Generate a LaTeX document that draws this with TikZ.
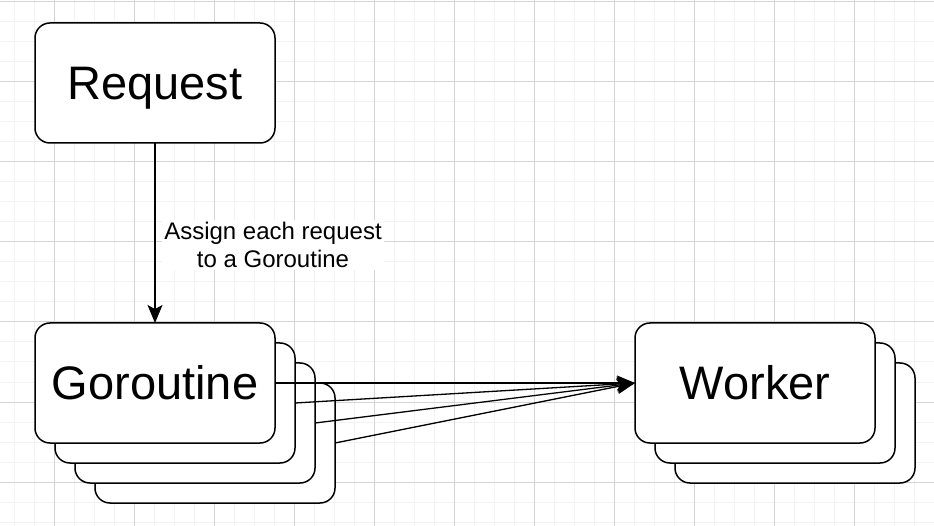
\documentclass[tikz,border=0pt]{standalone}
\usepackage{fontspec}
\setmainfont{Liberation Sans}
\usetikzlibrary{arrows.meta}
\definecolor{gridminor}{HTML}{F2F2F2}
\definecolor{gridmajor}{HTML}{D4D4D4}
\tikzset{
  box/.style={draw=black, fill=white, line width=1.5pt, rounded corners=15pt,
    minimum width=240pt, minimum height=120pt, inner sep=0pt, outer sep=0pt,
    font=\fontsize{47}{56}\selectfont, text height=33.7pt, text depth=0pt},
  conn/.style={draw=black, line width=1.3pt, -{Stealth[length=18pt,width=15pt,inset=4pt]}},
  lbl/.style={fill=white, inner sep=2pt, align=center, font=\fontsize{24}{28}\selectfont}
}
\begin{document}
\begin{tikzpicture}[x=1pt,y=-1pt]
\useasboundingbox (0,0) rectangle (934,526);
% grid
\foreach \x in {14,34,...,934} \draw[gridminor, line width=1pt] (\x,0) -- (\x,526);
\foreach \y in {2,22,...,526} \draw[gridminor, line width=1pt] (0,\y) -- (934,\y);
\foreach \x in {54,134,...,934} \draw[gridmajor, line width=1pt] (\x,0) -- (\x,526);
\foreach \y in {2,82,...,526} \draw[gridmajor, line width=1pt] (0,\y) -- (934,\y);
% request
\node[box] (req) at (155,83) {Request};
% goroutine stack
\node[box] (g4) at (215,443) {};
\node[box] (g3) at (195,423) {};
\node[box] (g2) at (175,403) {};
\node[box] (g1) at (155,383) {Goroutine};
% worker stack
\node[box] (w3) at (795,423) {};
\node[box] (w2) at (775,403) {};
\node[box] (w1) at (755,383) {Worker};
% connectors
\draw[conn] (req.south) -- (g1.north);
\node[lbl] (lab) at (273,245) {Assign each request\\to a Goroutine};
\draw[conn] (g1.east) -- (w1.west);
\draw[conn] (g2.east) -- (w1.west);
\draw[conn] (g3.east) -- (w1.west);
\draw[conn] (g4.east) -- (w1.west);
\end{tikzpicture}
\end{document}
